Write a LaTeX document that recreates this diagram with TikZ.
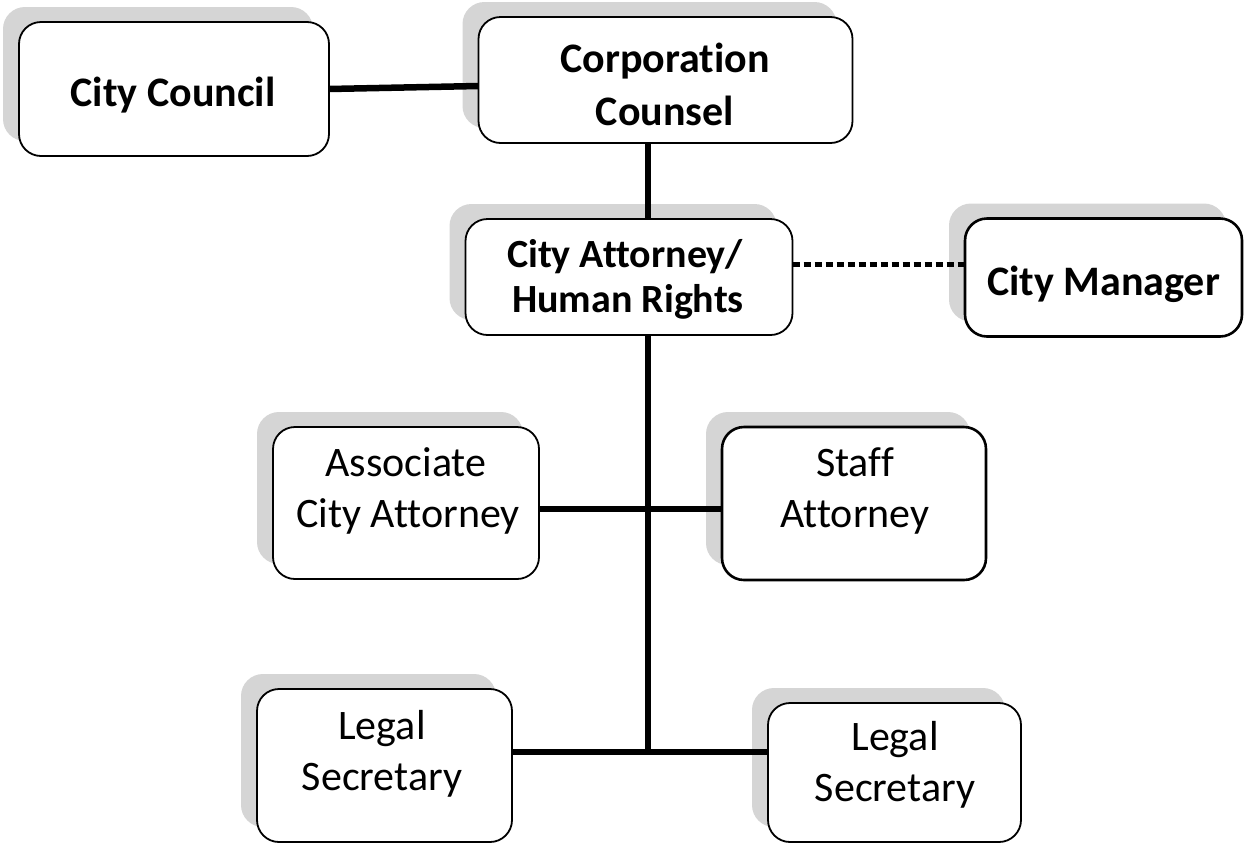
\documentclass[tikz,border=0pt]{standalone}
\usepackage{fontspec}
\setmainfont{Carlito}[Ligatures=NoCommon]
\usetikzlibrary{calc}
\pgfdeclarelayer{shadowlayer}
\pgfdeclarelayer{linelayer}
\pgfsetlayers{shadowlayer,linelayer,main}
\definecolor{shadowgray}{RGB}{213,213,213}
\tikzset{
  box/.style={draw=black, line width=1.8pt, fill=white, rounded corners=22pt, inner sep=0pt, outer sep=0pt},
  heavybox/.style={box, line width=2.6pt},
  boldtext/.style={font=\fontsize{42}{50}\selectfont\bfseries, anchor=base, inner sep=0pt},
  plaintext/.style={font=\fontsize{42}{50}\selectfont, anchor=base, inner sep=0pt},
  conn/.style={line width=6.5pt},
  dotconn/.style={line width=5pt, dash pattern=on 7pt off 4pt},
  shadowfill/.style={fill=shadowgray, rounded corners=22pt}
}
\begin{document}
\begin{tikzpicture}[x=1pt,y=-1pt]
\useasboundingbox (0,0) rectangle (1246,844);
\begin{pgfonlayer}{shadowlayer}
  \fill[white] (0,0) rectangle (1246,844);
\end{pgfonlayer}

% boxes
\node[box, minimum width=310pt, minimum height=134pt] (council) at (174,89) {};
\node[box, minimum width=374pt, minimum height=126pt] (corp) at (665.5,80) {};
\node[box, minimum width=327pt, minimum height=116pt] (att) at (629,277) {};
\node[heavybox, minimum width=277pt, minimum height=118pt] (mgr) at (1103.5,277.5) {};
\node[box, minimum width=266pt, minimum height=152pt] (assoc) at (406,503) {};
\node[heavybox, minimum width=264pt, minimum height=153pt] (staff) at (854,503.5) {};
\node[box, minimum width=255pt, minimum height=153pt] (legal1) at (384.5,765.5) {};
\node[box, minimum width=253pt, minimum height=139pt] (legal2) at (894.5,772.5) {};

% texts
\node[boldtext] (council-t) at (173,106) {City Council};
\node[boldtext] (corp-t1) at (665,72) {Corporation};
\node[boldtext] (corp-t2) at (665,125) {Counsel};
\node[boldtext, font=\fontsize{40}{45}\selectfont\bfseries] (att-t1) at (625,267) {City Attorney/};
\node[boldtext, font=\fontsize{40}{45}\selectfont\bfseries] (att-t2) at (628,312) {Human Rights};
\node[boldtext] (mgr-t) at (1103.5,295) {City Manager};
\node[plaintext] (assoc-t1) at (406,476) {Associate};
\node[plaintext] (assoc-t2) at (408,527) {City Attorney};
\node[plaintext] (staff-t1) at (855,476) {Staff};
\node[plaintext] (staff-t2) at (855,527) {Attorney};
\node[plaintext] (legal1-t1) at (382,739) {Legal};
\node[plaintext] (legal1-t2) at (382,790) {Secretary};
\node[plaintext] (legal2-t1) at (895,750) {Legal};
\node[plaintext] (legal2-t2) at (895,801) {Secretary};

% shadows
\begin{pgfonlayer}{shadowlayer}
  \foreach \n in {council,corp,att,mgr,assoc,staff,legal1,legal2}
    \fill[shadowfill] ($(\n.south west)+(-16,-15)$) rectangle ($(\n.north east)+(-16,-15)$);
\end{pgfonlayer}

% connectors
\coordinate (junction) at (648,752);
\coordinate (midrow) at (648,509);
\coordinate (dotrow) at (648,264);
\begin{pgfonlayer}{linelayer}
  \draw[conn] (council.east) -- ($(corp.west)+(0,6)$);
  \draw[conn] (corp.south -| junction) -- (att.north -| junction);
  \draw[conn] (att.south -| junction) -- (junction);
  \draw[conn] (legal1.east |- junction) -- (junction) -- (legal2.west |- junction);
  \draw[conn] (assoc.east |- midrow) -- (staff.west |- midrow);
  \draw[dotconn] (att.east |- dotrow) -- (mgr.west |- dotrow);
\end{pgfonlayer}
\end{tikzpicture}
\end{document}
